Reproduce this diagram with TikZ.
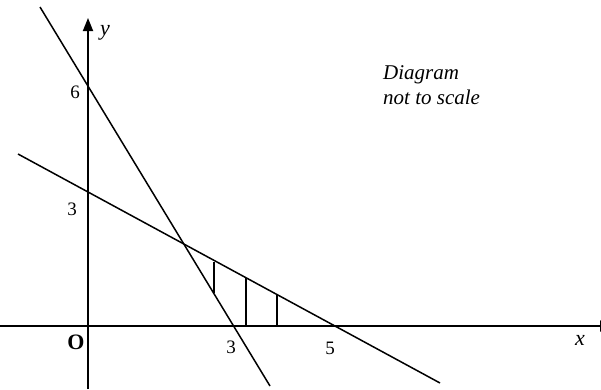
\documentclass[tikz,border=0pt]{standalone}
\usepackage{fontspec}
\setmainfont{Liberation Serif}
\usetikzlibrary{arrows.meta}
\begin{document}
\begin{tikzpicture}[x=1pt,y=-1pt,
  axis/.style={line width=1.8pt},
  graphline/.style={line width=1.5pt},
  hatch/.style={line width=1.5pt},
  lbl/.style={font=\fontsize{19}{22}\selectfont, inner sep=0pt},
  ilbl/.style={font=\fontsize{22}{24}\selectfont\itshape, inner sep=0pt},
  note/.style={font=\fontsize{21}{25}\selectfont\itshape, inner sep=0pt, align=left, anchor=north west}]
\useasboundingbox (0,0) rectangle (601,389);
% axes
\coordinate (yb) at (88,389);
\coordinate (yt) at (88,18);
\coordinate (xl) at (0,326);
\coordinate (xr) at (613,326);
\draw[axis,-{Triangle[length=13pt,width=10pt]}] (yb) -- (yt);
\draw[axis,-{Triangle[length=13pt,width=11pt]}] (xl) -- (xr);
% line 1 (through (0,6) and (3,0))
\coordinate (a1) at (40,7);
\coordinate (a2) at (270,386);
\draw[graphline] (a1) -- (a2);
% line 2 (through (0,3) and (5,0))
\coordinate (b1) at (18,154);
\coordinate (b2) at (440,383);
\draw[graphline] (b1) -- (b2);
% hatching
\coordinate (h1t) at (214,262); \coordinate (h1b) at (214,293);
\coordinate (h2t) at (246,278); \coordinate (h2b) at (246,326);
\coordinate (h3t) at (277,295); \coordinate (h3b) at (277,326);
\draw[hatch] (h1t) -- (h1b);
\draw[hatch] (h2t) -- (h2b);
\draw[hatch] (h3t) -- (h3b);
% labels
\node[ilbl] (ly) at (105,33) {y};
\node[lbl] (l6) at (75,92) {6};
\node[lbl] (l3y) at (72,209) {3};
\node[lbl,font=\fontsize{22}{24}\selectfont\bfseries] (lO) at (76,342) {O};
\node[lbl] (l3x) at (231,347) {3};
\node[lbl] (l5) at (330,348) {5};
\node[ilbl] (lx) at (580,340) {x};
\node[note] (nt) at (383,65) {Diagram\\not to scale};
\end{tikzpicture}
\end{document}
